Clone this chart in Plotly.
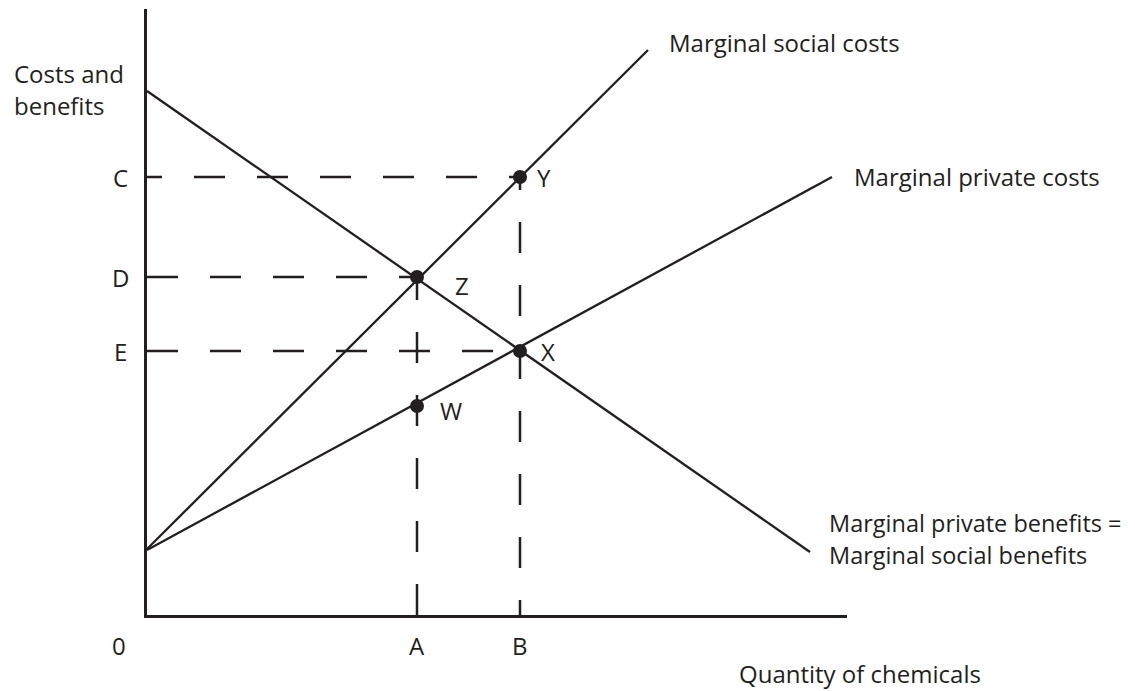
import plotly.graph_objects as go

# ---- data (chart units) ----
msc_x = [0, 50.1]; msc_y = [6.6, 56.5]     # Marginal social costs
mpc_x = [0, 68.5]; mpc_y = [6.5, 43.8]     # Marginal private costs
mpb_x = [0, 66.3]; mpb_y = [52.4, 6.3]     # Marginal private benefits = Marginal social benefits

pt_names = ["Y", "Z", "X", "W"]
pt_x = [37.3, 27.0, 37.3, 27.0]
pt_y = [43.8, 33.8, 26.4, 20.9]

q_names = ["A", "B"]
q_vals = [27.0, 37.3]
p_names = ["C", "D", "E"]
p_vals = [43.8, 33.8, 26.4]

INK = "#231f20"
FONT = "Open Sans"
FS = 24
FULL = "31px,32px"
HALF = "15px,32px,16px,0px"

fig = go.Figure()

# dashed guide lines
h_dash = {"C": HALF, "D": FULL, "E": FULL}
h_end = {"C": 37.3, "D": 27.0, "E": 37.3}
for n, v in zip(p_names, p_vals):
    fig.add_trace(go.Scatter(x=[0, h_end[n]], y=[v, v], mode="lines",
                             line=dict(color=INK, width=2.5, dash=h_dash[n]),
                             hoverinfo="skip", showlegend=False))
v_dash = {"A": FULL, "B": HALF}
v_top = {"A": 33.8, "B": 43.8}
for n, v in zip(q_names, q_vals):
    fig.add_trace(go.Scatter(x=[v, v], y=[0, v_top[n]], mode="lines",
                             line=dict(color=INK, width=2.5, dash=v_dash[n]),
                             hoverinfo="skip", showlegend=False))

# curves
for xs, ys in [(msc_x, msc_y), (mpc_x, mpc_y), (mpb_x, mpb_y)]:
    fig.add_trace(go.Scatter(x=xs, y=ys, mode="lines",
                             line=dict(color=INK, width=2.3),
                             hoverinfo="skip", showlegend=False))

# points
fig.add_trace(go.Scatter(x=pt_x, y=pt_y, mode="markers",
                         marker=dict(color=INK, size=14),
                         hoverinfo="skip", showlegend=False))

ann = []
font = dict(family=FONT, size=FS, color=INK)
font_b = dict(family=FONT, size=23.5, color=INK)
shifts = {"Y": (15, 0), "Z": (36, -8), "X": (19, 0), "W": (21, -4)}
for n, x, y in zip(pt_names, pt_x, pt_y):
    dx, dy = shifts[n]
    ann.append(dict(x=x, y=y, xref="x", yref="y", text=n, showarrow=False,
                    xanchor="left", yanchor="middle", xshift=dx, yshift=dy, font=font))
for n, v in zip(p_names, p_vals):
    ann.append(dict(x=0, y=v, xref="x", yref="y", text=n, showarrow=False,
                    xanchor="center", yanchor="middle", xshift=-27, font=font))
for n, v in zip(q_names, q_vals):
    ann.append(dict(x=v, y=0, xref="x", yref="y", text=n, showarrow=False,
                    xanchor="center", yanchor="middle", yshift=-30, font=font))
ann.append(dict(x=0, y=0, xref="x", yref="y", text="0", showarrow=False,
                xanchor="center", yanchor="middle", xshift=-28, yshift=-30, font=font))

ann += [
    dict(x=0.743, y=0.9455, xref="paper", yref="paper", text="Marginal social costs",
         showarrow=False, xanchor="left", yanchor="middle", font=font),
    dict(x=1.007, y=0.723, xref="paper", yref="paper", text="Marginal private costs",
         showarrow=False, xanchor="left", yanchor="middle", font=font),
    dict(x=0.972, y=0.1518, xref="paper", yref="paper", text="Marginal private benefits =",
         showarrow=False, xanchor="left", yanchor="middle", font=font_b),
    dict(x=0.972, y=0.099, xref="paper", yref="paper", text="Marginal social benefits",
         showarrow=False, xanchor="left", yanchor="middle", font=font_b),
    dict(x=0.843, y=-0.097, xref="paper", yref="paper", text="Quantity of chemicals",
         showarrow=False, xanchor="left", yanchor="middle", font=font),
    dict(x=-0.193, y=0.893, xref="paper", yref="paper", text="Costs and",
         showarrow=False, xanchor="left", yanchor="middle", font=font),
    dict(x=-0.193, y=0.840, xref="paper", yref="paper", text="benefits",
         showarrow=False, xanchor="left", yanchor="middle", font=font),
]

# the page body adds an 8px margin, so the figure is 8px smaller and offset
fig.update_layout(
    width=1127, height=683,
    margin=dict(l=139, r=288, t=1, b=76),
    paper_bgcolor="white", plot_bgcolor="white",
    xaxis=dict(range=[0, 70], showgrid=False, zeroline=False, showticklabels=False,
               ticks="", showline=True, linecolor=INK, linewidth=3),
    yaxis=dict(range=[0, 60.6], showgrid=False, zeroline=False, showticklabels=False,
               ticks="", showline=True, linecolor=INK, linewidth=3),
    annotations=ann,
    showlegend=False,
)

fig.write_html("out.html")
